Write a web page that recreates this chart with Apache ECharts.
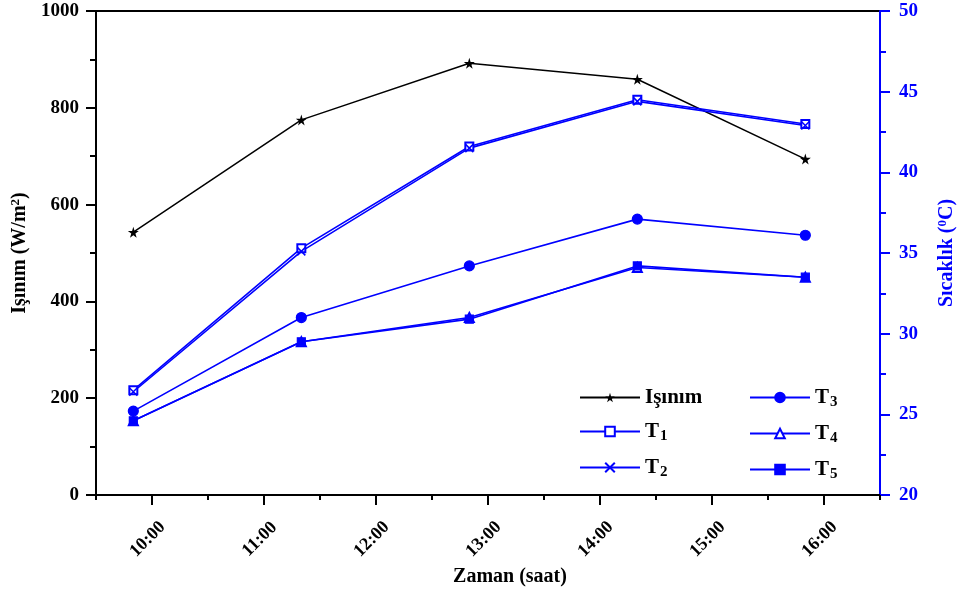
<!DOCTYPE html>
<html>
<head>
<meta charset="utf-8">
<script src="https://cdn.jsdelivr.net/npm/echarts@6/dist/echarts.min.js"></script>
<style>
html, body { margin: 0; padding: 0; background: #fff; }
#main { width: 960px; height: 592px; }
</style>
</head>
<body>
<div id="main"></div>
<script>
// measurement times and values
const times = ['09:50', '11:20', '12:50', '14:20', '15:50'];
const isinim = [543, 775, 892, 859, 694];
const t1 = [26.5, 35.3, 41.6, 44.5, 43.0];
const t2 = [26.4, 35.1, 41.5, 44.4, 42.9];
const t3 = [25.2, 31.0, 34.2, 37.1, 36.1];
const t4 = [24.6, 29.5, 31.0, 34.1, 33.5];
const t5 = [24.6, 29.5, 30.9, 34.2, 33.5];
// half-hour slots along the time axis, 9:30 .. 16:30
const halfLabels = ['9:30', '10:00', '10:30', '11:00', '11:30', '12:00', '12:30', '13:00',
    '13:30', '14:00', '14:30', '15:00', '15:30', '16:00', '16:30'];

const FONT = "'Liberation Serif', 'Times New Roman', serif";
const BLUE = '#0000ff';
const STAR = 'path://M50,0 L61,35 L98,35 L68,57 L79,91 L50,70 L21,91 L32,57 L2,35 L39,35 Z';
const CROSS = 'path://M0,0 L10,10 M10,0 L0,10';

function toHour(s) {
    const p = s.split(':');
    return Number(p[0]) + Number(p[1]) / 60;
}
function pairs(vals) {
    return vals.map((v, i) => [toHour(times[i]), v]);
}
function onHour(i) {
    return i % 2 === 1;
}

let chart = echarts.init(document.getElementById('main'));

const boldText = {
    fontFamily: FONT,
    fontWeight: 'bold',
    color: '#000'
};

function tSeries(name, vals, symbol, size, extra) {
    return Object.assign({
        name: name,
        type: 'line',
        yAxisIndex: 1,
        data: pairs(vals),
        symbol: symbol,
        symbolSize: size,
        lineStyle: { color: BLUE, width: 1.6 },
        itemStyle: { color: BLUE, borderColor: BLUE, borderWidth: 1.2 },
        emphasis: { disabled: true },
        z: 3
    }, extra || {});
}

let legendText = {
    fontFamily: FONT,
    fontWeight: 'bold',
    fontSize: 21,
    color: '#000',
    rich: {
        sub: {
            fontFamily: FONT,
            fontWeight: 'bold',
            fontSize: 15,
            color: '#000',
            verticalAlign: 'bottom',
            padding: [10, 0, 0, 1]
        }
    }
};
function legendFmt(name) {
    if (name.charAt(0) === 'T') return 'T{sub|' + name.slice(1) + '}';
    return name;
}

let options = {
    animation: false,
    backgroundColor: '#fff',
    grid: {
        left: 96,
        right: 80,
        top: 11,
        bottom: 97,
        outerBoundsMode: 'none',
        show: true,
        borderColor: '#000',
        borderWidth: 2
    },
    legend: [
        {
            left: 574,
            top: 382,
            orient: 'vertical',
            itemWidth: 60,
            itemHeight: 12,
            itemGap: 13,
            data: ['Işınım', 'T1', 'T2'],
            formatter: legendFmt,
            textStyle: legendText
        },
        {
            left: 744,
            top: 382,
            orient: 'vertical',
            itemWidth: 60,
            itemHeight: 12,
            itemGap: 13,
            data: ['T3', 'T4', 'T5'],
            formatter: legendFmt,
            textStyle: legendText
        }
    ],
    xAxis: [
        {
            type: 'value',
            min: 9.5,
            max: 16.5,
            position: 'bottom',
            name: 'Zaman (saat)',
            nameLocation: 'middle',
            nameGap: 72,
            nameTextStyle: Object.assign({ fontSize: 20, padding: [0, 0, 0, 44] }, boldText),
            axisLine: { lineStyle: { color: '#000', width: 2 } },
            axisTick: { show: false },
            axisLabel: { show: false },
            splitLine: { show: false }
        },
        {
            // hour ticks and labels
            type: 'category',
            data: halfLabels,
            boundaryGap: false,
            position: 'bottom',
            axisLine: { show: false },
            axisTick: { show: true, interval: onHour, length: 10, lineStyle: { color: '#000', width: 2 } },
            axisLabel: Object.assign({
                interval: onHour,
                rotate: 45,
                fontSize: 18,
                margin: 40,
                align: 'center',
                verticalAlign: 'middle',
                padding: [0, 12, 0, 0]
            }, boldText),
            splitLine: { show: false }
        },
        {
            // half-hour ticks
            type: 'category',
            data: halfLabels,
            boundaryGap: false,
            position: 'bottom',
            axisLine: { show: false },
            axisTick: { show: true, interval: 0, length: 5, lineStyle: { color: '#000', width: 2 } },
            axisLabel: { show: false },
            splitLine: { show: false }
        }
    ],
    yAxis: [
        {
            type: 'value',
            min: 0,
            max: 1000,
            interval: 200,
            position: 'left',
            name: 'Işınım (W/m{sup|2})',
            nameLocation: 'middle',
            nameRotate: 90,
            nameGap: 55,
            nameTextStyle: Object.assign({
                fontSize: 20,
                rich: { sup: { fontFamily: FONT, fontWeight: 'bold', fontSize: 13, color: '#000', verticalAlign: 'top', padding: [0, 0, 8, 0] } }
            }, boldText),
            axisLine: { show: true, lineStyle: { color: '#000', width: 2 } },
            axisTick: { show: true, length: 10, lineStyle: { color: '#000', width: 2 } },
            minorTick: { show: true, splitNumber: 2, length: 6, lineStyle: { color: '#000', width: 2 } },
            axisLabel: Object.assign({ fontSize: 19, margin: 17, formatter: function(v) { return String(v); } }, boldText),
            splitLine: { show: false }
        },
        {
            type: 'value',
            min: 20,
            max: 50,
            interval: 5,
            position: 'right',
            name: 'Sıcaklık ({sup|0}C)',
            nameLocation: 'middle',
            nameRotate: 90,
            nameGap: 56,
            nameTextStyle: {
                fontFamily: FONT,
                fontWeight: 'bold',
                fontSize: 20,
                color: BLUE,
                rich: { sup: { fontFamily: FONT, fontWeight: 'bold', fontSize: 13, color: BLUE, verticalAlign: 'top', padding: [0, 0, 8, 0] } }
            },
            axisLine: { show: true, lineStyle: { color: BLUE, width: 2 } },
            axisTick: { show: true, length: 10, lineStyle: { color: BLUE, width: 2 } },
            minorTick: { show: true, splitNumber: 2, length: 6, lineStyle: { color: BLUE, width: 2 } },
            axisLabel: { fontFamily: FONT, fontWeight: 'bold', fontSize: 19, color: BLUE, margin: 19 },
            splitLine: { show: false }
        }
    ],
    series: [
        {
            name: 'Işınım',
            type: 'line',
            yAxisIndex: 0,
            data: pairs(isinim),
            symbol: STAR,
            symbolSize: 11,
            lineStyle: { color: '#000', width: 1.5 },
            itemStyle: { color: '#000' },
            emphasis: { disabled: true },
            z: 3
        },
        tSeries('T1', t1, 'emptyRect', 8),
        tSeries('T2', t2, CROSS, 8, {
            itemStyle: { color: 'rgba(0,0,0,0)', borderColor: BLUE, borderWidth: 1.5 }
        }),
        tSeries('T3', t3, 'circle', 10),
        tSeries('T4', t4, 'emptyTriangle', 9),
        tSeries('T5', t5, 'rect', 8)
    ]
};
chart.setOption(options);
</script>
</body>
</html>
